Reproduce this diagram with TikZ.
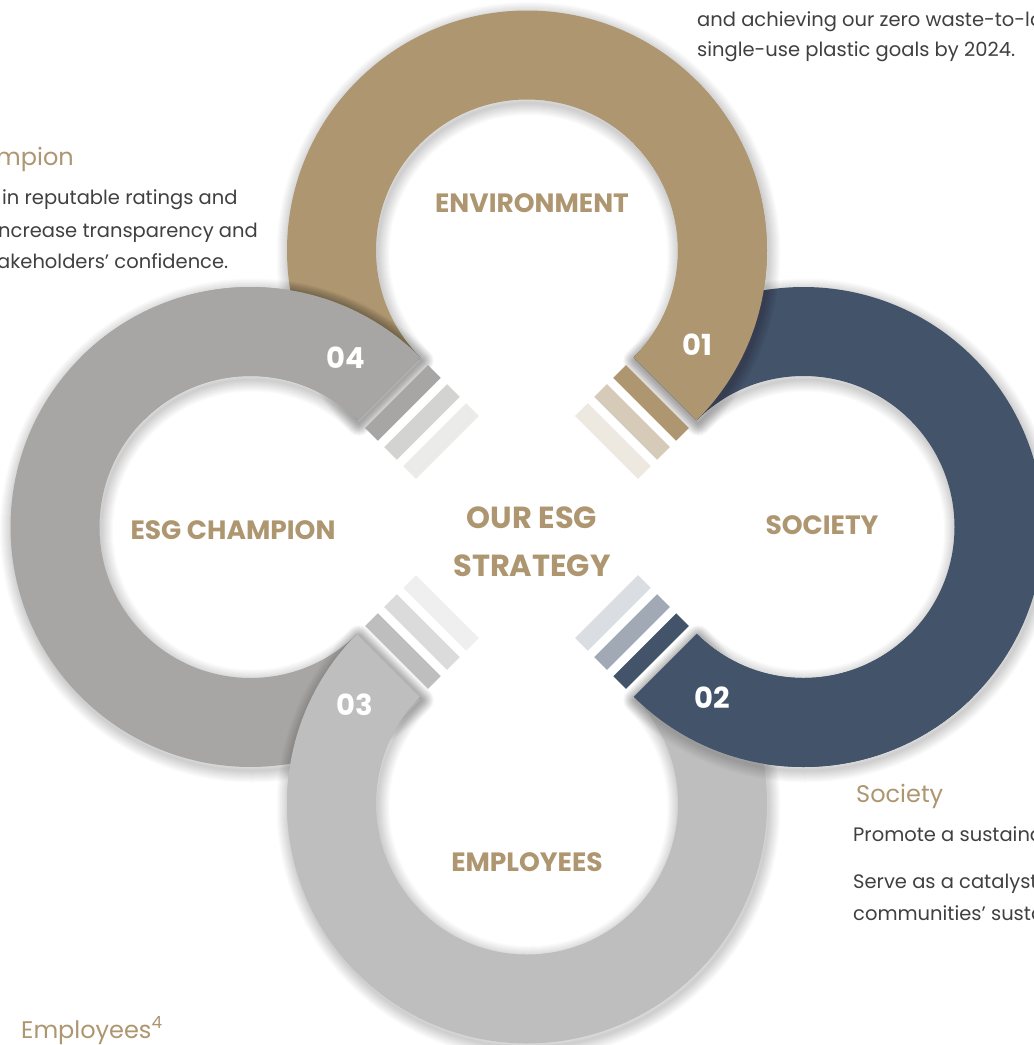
\documentclass[tikz,border=0pt]{standalone}
\usepackage{fontspec}
\setmainfont{Poppins}
\usetikzlibrary{calc}
\definecolor{gold}{HTML}{AD9670}
\definecolor{navy}{HTML}{435369}
\definecolor{grayfour}{HTML}{A7A6A4}
\definecolor{graythree}{HTML}{BEBEBE}
\definecolor{bodytext}{HTML}{404040}
% annular sector: center, start angle, end angle
\newcommand{\annsec}[3]{([shift={(#1)}]#2:240) arc[start angle=#2, end angle=#3, radius=240] -- ([shift={(#1)}]#3:151) arc[start angle=#3, end angle=#2, radius=151] -- cycle}
% stripe: center, direction, perpendicular direction, t1, t2
\newcommand{\stripebar}[5]{($(#1)+(#2:151)+(#3:#4)$) -- ($(#1)+(#2:240)+(#3:#4)$) -- ($(#1)+(#2:240)+(#3:#5)$) -- ($(#1)+(#2:151)+(#3:#5)$) -- cycle}
% soft shadow: stacked translucent strokes, shifted down-right
\newcommand{\softshadow}[1]{\foreach \w in {2,4,...,24}{\draw[shadowstroke, line width=\w pt] #1;}}
\tikzset{
  shadowstroke/.style={black, opacity=0.017, line join=round, shift={(1.5,3.5)}},
  ringlbl/.style={font=\fontsize{26.5}{30}\selectfont\bfseries, text=gold, inner sep=0pt},
  numlbl/.style={font=\fontsize{29}{32}\selectfont\bfseries, text=white, inner sep=0pt},
  centerlbl/.style={font=\fontsize{30.5}{36}\selectfont\bfseries, text=gold, inner sep=0pt},
  sectitle/.style={font=\fontsize{24}{28}\selectfont, text=gold, inner sep=0pt, anchor=base west},
  bodytxt/.style={font=\fontsize{19.5}{24}\selectfont, text=bodytext, inner sep=0pt, anchor=base west}
}
\begin{document}
\begin{tikzpicture}[x=1pt,y=-1pt]
\clip (0,0) rectangle (1034,1045);
\fill[white] (0,0) rectangle (1034,1045);
\coordinate (C) at (527,527);
\coordinate (T) at (527,250.5);
\coordinate (R) at (803.5,527);
\coordinate (B) at (527,803.5);
\coordinate (L) at (250.5,527);

% pass 1: full rings
\softshadow{\annsec{T}{135}{405}}
\fill[gold] \annsec{T}{135}{405};
\softshadow{\annsec{R}{225}{495}}
\fill[navy] \annsec{R}{225}{495};
\softshadow{\annsec{B}{315}{585}}
\fill[graythree] \annsec{B}{315}{585};
\softshadow{\annsec{L}{45}{315}}
\fill[grayfour] \annsec{L}{45}{315};

% pass 2: numbered ends on top
\begin{scope}\clip \annsec{R}{225}{495}; \softshadow{\annsec{T}{315}{405}} \end{scope}
\fill[gold] \annsec{T}{315}{405};
\begin{scope}\clip \annsec{B}{315}{585}; \softshadow{\annsec{R}{45}{135}} \end{scope}
\fill[navy] \annsec{R}{45}{135};
\begin{scope}\clip \annsec{L}{45}{315}; \softshadow{\annsec{B}{135}{225}} \end{scope}
\fill[graythree] \annsec{B}{135}{225};
\begin{scope}\clip \annsec{T}{135}{405}; \softshadow{\annsec{L}{225}{315}} \end{scope}
\fill[grayfour] \annsec{L}{225}{315};

% stripes
\fill[gold] \stripebar{T}{45}{135}{11}{29};
\fill[gold!50] \stripebar{T}{45}{135}{38}{56};
\fill[gold!22] \stripebar{T}{45}{135}{65}{83};
\fill[navy] \stripebar{R}{135}{225}{11}{29};
\fill[navy!50] \stripebar{R}{135}{225}{38}{56};
\fill[navy!20] \stripebar{R}{135}{225}{65}{83};
\fill[graythree] \stripebar{B}{225}{315}{11}{29};
\fill[graythree!55] \stripebar{B}{225}{315}{38}{56};
\fill[graythree!25] \stripebar{B}{225}{315}{65}{83};
\fill[grayfour] \stripebar{L}{315}{405}{11}{29};
\fill[grayfour!50] \stripebar{L}{315}{405}{38}{56};
\fill[grayfour!23] \stripebar{L}{315}{405}{65}{83};

% numbers
\node[numlbl] (n01) at (697,345) {01};
\node[numlbl] (n02) at (712,698) {02};
\node[numlbl] (n03) at (355,705) {03};
\node[numlbl] (n04) at (346,358) {04};

% ring labels
\node[ringlbl] (env) at (532,203) {ENVIRONMENT};
\node[ringlbl] (soc) at (822,525) {SOCIETY};
\node[ringlbl] (esg) at (233,530) {ESG CHAMPION};
\node[ringlbl] (emp) at (527,862) {EMPLOYEES};
\node[centerlbl] (our) at (532,518) {OUR ESG};
\node[centerlbl] (strat) at (532,566) {STRATEGY};

% side texts
\node[bodytxt] (envt1) at (697,26) {and achieving our zero waste-to-lan};
\node[bodytxt] (envt2) at (697,56) {single-use plastic goals by 2024.};

\node[sectitle] (champ) at (-4,165) {mpion};
\node[bodytxt] (cht1) at (2,204) {in reputable ratings and};
\node[bodytxt] (cht2) at (-2,237) {ncrease transparency and};
\node[bodytxt] (cht3) at (-3,268) {akeholders’ confidence.};

\node[sectitle] (soct) at (856,802) {Society};
\node[bodytxt] (soc1) at (853,841) {Promote a sustaina};
\node[bodytxt] (soc2) at (853,888) {Serve as a catalyst};
\node[bodytxt] (soc3) at (853,920) {communities’ susta};

\node[sectitle] (empt) at (21,1038) {Employees\textsuperscript{4}};
\end{tikzpicture}
\end{document}
